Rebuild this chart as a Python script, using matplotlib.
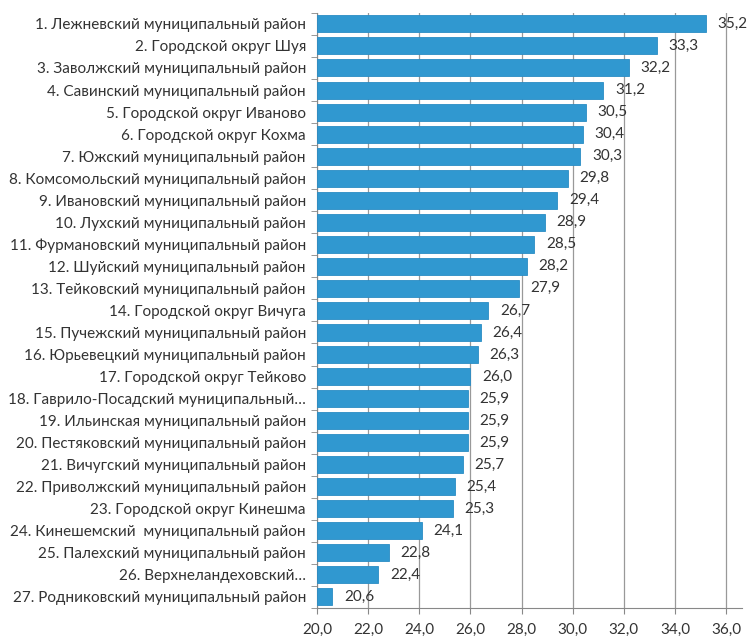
import matplotlib
matplotlib.use("Agg")
from matplotlib import pyplot as plt

plt.rcParams["font.family"] = ["Lato", "DejaVu Sans"]

names = [
    "1. Лежневский муниципальный район",
    "2. Городской округ Шуя",
    "3. Заволжский муниципальный район",
    "4. Савинский муниципальный район",
    "5. Городской округ Иваново",
    "6. Городской округ Кохма",
    "7. Южский муниципальный район",
    "8. Комсомольский муниципальный район",
    "9. Ивановский муниципальный район",
    "10. Лухский муниципальный район",
    "11. Фурмановский муниципальный район",
    "12. Шуйский муниципальный район",
    "13. Тейковский муниципальный район",
    "14. Городской округ Вичуга",
    "15. Пучежский муниципальный район",
    "16. Юрьевецкий муниципальный район",
    "17. Городской округ Тейково",
    "18. Гаврило-Посадский муниципальный…",
    "19. Ильинская муниципальный район",
    "20. Пестяковский муниципальный район",
    "21. Вичугский муниципальный район",
    "22. Приволжский муниципальный район",
    "23. Городской округ Кинешма",
    "24. Кинешемский  муниципальный район",
    "25. Палехский муниципальный район",
    "26. Верхнеландеховский…",
    "27. Родниковский муниципальный район",
]
values = [35.2, 33.3, 32.2, 31.2, 30.5, 30.4, 30.3, 29.8, 29.4, 28.9, 28.5, 28.2,
          27.9, 26.7, 26.4, 26.3, 26.0, 25.9, 25.9, 25.9, 25.7, 25.4, 25.3, 24.1,
          22.8, 22.4, 20.6]
xticks = [20, 22, 24, 26, 28, 30, 32, 34, 36]

fig = plt.figure(figsize=(7.5, 6.44), dpi=100)
ax = fig.add_axes([0.4227, 0.056, 0.566, 0.924])

pos = list(range(len(names)))
ax.barh(pos, [v - 20 for v in values], left=20, height=0.77,
        color="#3098d0", edgecolor="#2a8cc4", linewidth=0.6, zorder=3)
for p, v in zip(pos, values):
    ax.text(v + 0.45, p, f"{v:.1f}".replace(".", ","), va="center", ha="left",
            fontsize=11, color="#333333", zorder=4)

ax.set_xlim(20, 36.6)
ax.set_ylim(len(names) - 0.5, -0.5)
ax.set_xticks(xticks)
ax.set_xticklabels([f"{t:.1f}".replace(".", ",") for t in xticks], fontsize=11,
                   color="#333333")
ax.set_yticks(pos)
ax.set_yticklabels(names, fontsize=11, color="#333333")
ax.set_yticks([p + 0.5 for p in range(-1, len(names))], minor=True)
ax.tick_params(axis="y", which="major", length=0, pad=8)
ax.tick_params(axis="y", which="minor", length=4, color="#888888")
ax.tick_params(axis="x", length=4, color="#888888", pad=7)
ax.grid(axis="x", color="#999999", linewidth=0.9, zorder=0)
for side in ["top", "right"]:
    ax.spines[side].set_visible(False)
ax.spines["left"].set_color("#888888")
ax.spines["bottom"].set_color("#888888")

fig.savefig("out.png", dpi=100)
